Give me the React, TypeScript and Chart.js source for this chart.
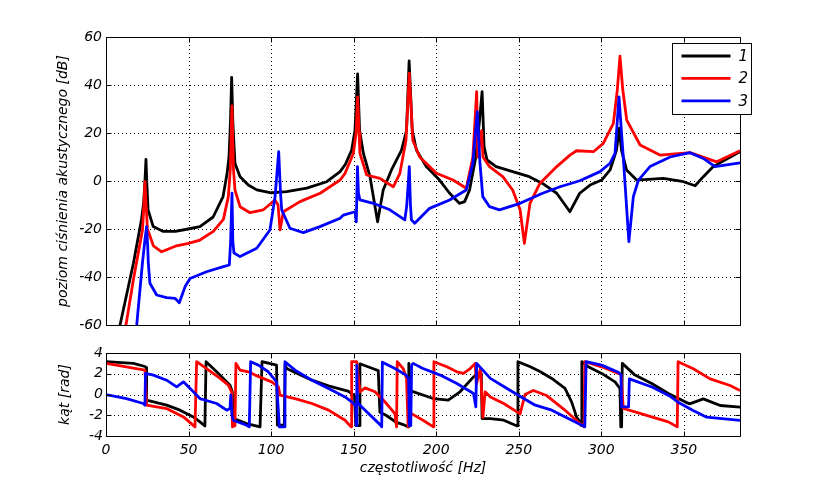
import React, { useEffect, useRef } from "react";
import { Chart, registerables } from "chart.js";

Chart.register(...registerables);

// ---------------- data ----------------
const FREQ_MAX = 384;
const FREQ_STEP = 50;
const MAG_MIN = -60;
const MAG_MAX = 60;
const MAG_STEP = 20;
const PH_MIN = -4;
const PH_MAX = 4;
const PH_STEP = 2;

const seriesLabels = ["1", "2", "3"];
const seriesColors = ["#000000", "#ff0000", "#0000ff"];

// magnitude, series 1 (black)
const mag1Hz = [6, 8.5, 16.6, 21.5, 22.8, 23.6, 24.2, 24.8, 25.5, 28.6, 34.7, 42, 49.7, 56.9, 64.9, 70.9, 73.3, 74.5, 75.4, 76.1, 76.8, 78.1, 81.2, 86.2, 91.3, 100.1, 109.4, 121.6, 133.7, 141.8, 145, 148.8, 150.8, 152.4, 153.6, 155.9, 159.9, 164.5, 167.9, 172.9, 179, 182, 183.6, 185.5, 188, 194, 202, 208, 214, 217.2, 220.2, 224, 226.2, 227.8, 229, 230.8, 236.3, 246.3, 256.4, 264.4, 273, 281, 286.9, 293.2, 300.2, 305.3, 309.2, 310.9, 312.2, 315.3, 321.4, 337.5, 349.8, 356.8, 361.8, 367.8, 384];
const mag1Db = [-72, -60, -34.3, -16, -9, 0, 9, -2, -12, -19, -21, -21, -20, -19, -15, -6.5, 3, 10, 25, 43.2, 25, 7.4, 1.8, -1.7, -3.7, -4.9, -4.4, -3, -0.3, 3.9, 7, 12.9, 21, 44.6, 21, 11.5, 1.8, -17, -3.75, 4.6, 12.9, 21, 50, 21, 12.9, 6, 0.4, -5, -9.3, -8.6, -3.75, 10, 25, 37.2, 14.3, 8.75, 6, 3.9, 1.8, -1, -5.1, -12.8, -5.1, -1.7, 0.4, 4.6, 12.9, 22, 12.9, 4.6, 0.4, 1.1, -0.3, -2, 1.8, 6, 12.2];

// magnitude, series 2 (red)
const mag2Hz = [10, 12.1, 16.6, 22.1, 23, 23.6, 24.3, 25.1, 28.7, 33.7, 42.7, 49.9, 56.9, 65, 71.1, 74.1, 75.3, 76.3, 77.2, 78.1, 81.2, 87.2, 95.3, 102.4, 104.2, 105.4, 107.4, 117.5, 129.7, 141.8, 144.8, 149.8, 151.5, 152.4, 153.3, 153.8, 157.9, 165.9, 174, 178, 181.7, 183.7, 185.8, 190, 200.1, 210.2, 218.2, 222.2, 224.5, 225.2, 227.5, 228.3, 232.3, 240.3, 246.3, 250.8, 253.4, 256.8, 262.8, 273, 281, 285, 295.2, 301.2, 307.3, 309.7, 311.3, 313, 315.4, 323.5, 335.5, 353.7, 363.8, 369.9, 384];
const mag2Db = [-68, -60, -41, -20.4, -10, -0.3, -10, -20, -27, -29.5, -27, -26, -24.6, -21, -16, -6.5, 5, 31.25, 5, -3.75, -10.7, -13.2, -12, -7.9, -10, -20.4, -12.8, -8.6, -5.1, 0.4, 3.2, 11.5, 20, 35, 20, 11.5, 2.5, 1.1, -2.4, 3.2, 17, 44.9, 17, 10, 3.2, 0.4, -3, 10, 37.2, 10, 21, 10, 6, 1.8, -3.75, -12, -26, -9.3, -1, 6, 10.8, 12.6, 12.2, 15.7, 24, 38, 52, 38, 25.4, 15, 10.8, 11.8, 9.4, 8, 12.6];

// magnitude, series 3 (blue)
const mag3Hz = [16, 18.6, 22.1, 23.5, 24.6, 25.3, 25.6, 26.6, 30.7, 36.7, 41.8, 44.4, 47.9, 50.9, 60.9, 71.1, 74.7, 75.5, 76.3, 76.8, 77.5, 81.2, 91.3, 99.3, 102.4, 104.6, 105.7, 106.4, 111.4, 119.5, 129.6, 141.8, 143.8, 150.8, 151.6, 152.3, 152.9, 153.8, 161.9, 171.9, 181, 182.2, 183.7, 184.4, 185, 187, 196, 208.1, 218.2, 222.2, 224.9, 226.5, 228.2, 232.3, 238.3, 250.8, 264.4, 275, 287, 299.2, 305.3, 308.3, 310.7, 313.3, 316.7, 319.4, 322.5, 329.5, 341.7, 353.7, 361.8, 368.9, 384];
const mag3Db = [-70, -60, -34, -25, -19, -28, -34, -42.6, -47.5, -48.6, -48.9, -50.7, -44, -40.6, -37.8, -35.7, -35, -25, -5.1, -25, -30, -31.5, -28, -20.4, -6.5, 12.2, -5, -12, -19.7, -21.5, -19, -15.5, -14.2, -12.8, -17, 6, -5, -7.9, -9.3, -12, -16.2, -10, 6, -10, -16.2, -17.6, -11.4, -7.9, -3.75, 7.4, 28.9, 7.4, -6.5, -10.7, -12, -9.3, -5.1, -2.4, 0.1, 3.9, 7.4, 11.5, 35, 10, -25.3, -6.5, 0.4, 6, 10, 11.8, 9.4, 6, 7.6];

// phase, series 1 (black)
const ph1Hz = [0, 16.6, 23.6, 24.3, 24.6, 36.7, 44.8, 52.9, 56.9, 59.9, 60.6, 67, 75.1, 76.5, 77, 85.2, 93.3, 94.5, 103.3, 103.8, 108, 108.5, 109.4, 124.7, 134.7, 146.6, 150.5, 151.3, 153.3, 153.8, 161.9, 164.9, 165.9, 169.6, 175.6, 180, 183, 183.4, 184.3, 185, 198.2, 207.3, 214.4, 222.6, 225.6, 227.3, 227.8, 232.8, 240.9, 249, 249.5, 257, 263.1, 270, 278, 282, 285, 287, 287.8, 288.2, 292.1, 300.2, 308.3, 311.3, 311.8, 312.3, 312.7, 320.4, 330.5, 340.6, 350.7, 353.5, 361.8, 372, 384];
const ph1Rad = [3.16, 3.0, 2.7, 2.6, -0.55, -1.03, -1.51, -2.16, -2.64, -3.03, 3.16, 2.19, 0.9, 0.26, -2.3, -2.8, -3.12, 3.16, 2.83, -2.96, -2.96, 2.9, 2.51, 1.38, 0.84, 0.32, -0.1, -3.0, -3.0, 2.96, 2.48, 2.3, -1.7, -2.0, -2.67, -2.9, -3.12, 3.0, 0.6, 0.32, -0.39, -0.55, 0.26, 1.7, 2.03, 2.0, -2.32, -2.32, -2.48, -3.03, 3.16, 2.67, 2.19, 1.55, 0.58, -0.71, -2.16, -2.64, -3.0, 3.16, 2.67, 2.03, 1.22, 0.58, -3.12, -3.12, 3.0, 1.87, 1.06, 0.1, -0.71, -0.9, -0.42, -1.06, -1.22];

// phase, series 2 (red)
const ph2Hz = [0, 23.6, 24.6, 36.7, 46.9, 53.9, 54.9, 60.9, 69.1, 74.1, 76.1, 76.6, 78.1, 78.7, 81.2, 86.2, 90.3, 100.3, 104.4, 105.4, 114.5, 124.7, 134.8, 144.8, 148.4, 148.8, 151.8, 152.6, 153.8, 156.9, 162.9, 168.9, 175, 176, 176.4, 180, 182, 183, 183.7, 185, 192, 198.3, 198.6, 206.4, 212.5, 216.5, 220.6, 223.6, 224.3, 226.8, 228.3, 229.6, 232.8, 240.9, 248.9, 250.8, 253.8, 258.8, 266.9, 277, 287.1, 289.5, 290, 300.2, 310.3, 312, 313.3, 320.4, 330.5, 340.6, 346, 346.5, 355.7, 365.9, 378, 384];
const ph2Rad = [3.0, 2.35, -1.03, -1.35, -2.16, -3.12, 3.16, 2.5, 1.55, 0.9, 0.26, -3.12, -3.0, 3.0, 2.35, 2.19, 1.87, 1.22, 0.74, -0.06, -0.39, -0.87, -1.51, -2.48, -3.12, 3.16, 3.16, 2.0, 0.26, 0.64, 0.26, -0.7, -1.84, -3.12, 3.16, 2.5, 1.55, -3.12, -1.84, -1.84, -2.48, -3.12, 3.16, 2.67, 2.19, 2.03, 2.5, 3.0, 1.0, 2.5, -2.2, 0.26, -0.23, -0.87, -1.67, -1.87, 0.0, 0.39, -0.1, -1.38, -2.8, -3.12, 3.16, 2.67, 2.03, 1.9, -1.35, -1.67, -2.16, -2.64, -3.12, 3.16, 2.48, 1.51, 0.87, 0.39];

// phase, series 3 (blue)
const ph3Hz = [0, 12.4, 22.6, 23.6, 23.9, 28.7, 36.7, 42.8, 46.9, 52.9, 56.9, 67, 73.1, 75.1, 75.6, 76.3, 77.1, 85.2, 86.8, 87.6, 92.3, 98.3, 103.3, 105, 108, 108.4, 114.5, 124.7, 134.8, 144.8, 148.8, 151.3, 151.6, 151.9, 152.3, 153.8, 166.6, 167, 167.4, 175, 182, 183.3, 183.7, 184.6, 185.1, 186, 192, 202.4, 212.5, 222.6, 224, 224.5, 232.8, 242.9, 253, 260, 270, 280, 290, 290.8, 300.2, 310.3, 311.9, 312.3, 316.5, 317, 331, 342, 346.5, 355.6, 363.8, 384];
const ph3Rad = [0, -0.39, -0.87, -1.03, 2.03, 1.87, 1.38, 0.74, 1.22, 0.26, -0.39, -0.87, -1.51, -1.35, -0.06, -2.0, -2.48, -2.96, -3.12, 3.16, 2.83, 2.19, 1.22, -3.12, -3.12, 3.16, 2.35, 1.38, 0.58, -0.23, -0.71, -1.1, -3.0, 2.8, -0.74, -1.03, -3.0, -3.12, 3.12, 2.5, 1.84, 1.5, -3.0, -3.0, 2.83, 3.0, 2.5, 1.87, 1.06, 0.1, -1.19, 3.0, 1.55, 0.58, -0.39, -1.03, -1.51, -2.32, -3.12, 3.16, 2.83, 2.15, 1.9, -1.19, -1.19, 1.51, 0.7, -0.2, -0.74, -1.55, -2.19, -2.5];

const magTitle = "poziom ciśnienia akustycznego [dB]";
const phaseTitle = "kąt [rad]";
const freqTitle = "częstotliwość [Hz]";

// ---------------- styling ----------------
const FAMILY = "'DejaVu Sans', sans-serif";
const tickFont = { family: FAMILY, size: 14, style: "italic" as const };
const titleFont = { family: FAMILY, size: 14, style: "italic" as const };
const LINE_W = 2.8;
const TICK_LEN = 5;

function pts(xs: number[], ys: number[]) {
  return xs.map((x, i) => ({ x, y: ys[i] }));
}

function dataset(idx: number, xs: number[], ys: number[]) {
  return {
    label: seriesLabels[idx],
    data: pts(xs, ys),
    borderColor: seriesColors[idx],
    backgroundColor: seriesColors[idx],
    borderWidth: LINE_W,
    pointRadius: 0,
    pointHoverRadius: 0,
    tension: 0,
    fill: false,
    order: 3 - idx,
    borderJoinStyle: "round" as const,
    borderCapStyle: "butt" as const,
  };
}

const framePlugin = {
  id: "matlabFrame",
  beforeDatasetsDraw(chart: any) {
    const { ctx, chartArea: a, scales } = chart;
    const xs = scales.x;
    const ys = scales.y;
    ctx.save();
    ctx.strokeStyle = "#000";
    ctx.lineWidth = 1;
    ctx.setLineDash([1, 3]);
    ctx.beginPath();
    for (const t of xs.ticks) {
      const p = Math.round(xs.getPixelForValue(t.value)) + 0.5;
      if (p <= a.left + 1 || p >= a.right - 1) continue;
      ctx.moveTo(p, a.top);
      ctx.lineTo(p, a.bottom);
    }
    for (const t of ys.ticks) {
      const p = Math.round(ys.getPixelForValue(t.value)) + 0.5;
      if (p <= a.top + 1 || p >= a.bottom - 1) continue;
      ctx.moveTo(a.left, p);
      ctx.lineTo(a.right, p);
    }
    ctx.stroke();
    ctx.restore();
  },
  afterDatasetsDraw(chart: any) {
    const { ctx, chartArea: a, scales } = chart;
    const xs = scales.x;
    const ys = scales.y;
    const l = Math.round(a.left) + 0.5;
    const r = Math.round(a.right) + 0.5;
    const t0 = Math.round(a.top) + 0.5;
    const b = Math.round(a.bottom) + 0.5;
    ctx.save();
    ctx.strokeStyle = "#000";
    ctx.lineWidth = 1;
    ctx.setLineDash([]);
    ctx.beginPath();
    ctx.rect(l, t0, r - l, b - t0);
    for (const t of xs.ticks) {
      const p = Math.round(xs.getPixelForValue(t.value)) + 0.5;
      ctx.moveTo(p, b);
      ctx.lineTo(p, b - TICK_LEN);
      ctx.moveTo(p, t0);
      ctx.lineTo(p, t0 + TICK_LEN);
    }
    for (const t of ys.ticks) {
      const p = Math.round(ys.getPixelForValue(t.value)) + 0.5;
      ctx.moveTo(l, p);
      ctx.lineTo(l + TICK_LEN, p);
      ctx.moveTo(r, p);
      ctx.lineTo(r - TICK_LEN, p);
    }
    ctx.stroke();
    ctx.restore();
  },
};

const legendPlugin = {
  id: "matlabLegend",
  afterDraw(chart: any) {
    const { ctx, chartArea: a } = chart;
    const left = Math.round(a.right) - 68 + 0.5;
    const top = Math.round(a.top) + 6 + 0.5;
    const w = 79;
    const h = 71;
    ctx.save();
    ctx.fillStyle = "#fff";
    ctx.fillRect(left, top, w, h);
    ctx.strokeStyle = "#000";
    ctx.lineWidth = 1;
    ctx.strokeRect(left, top, w, h);
    ctx.font = `italic 15px ${FAMILY}`;
    ctx.textBaseline = "middle";
    ctx.textAlign = "left";
    chart.data.datasets.forEach((d: any, i: number) => {
      const y = top + 12.5 + i * 22.4;
      ctx.strokeStyle = d.borderColor;
      ctx.lineWidth = LINE_W;
      ctx.beginPath();
      ctx.moveTo(left + 9, y);
      ctx.lineTo(left + 58, y);
      ctx.stroke();
      ctx.fillStyle = "#000";
      ctx.fillText(d.label, left + 66, y + 1);
    });
    ctx.restore();
  },
};

function baseOptions() {
  return {
    responsive: false,
    maintainAspectRatio: false,
    animation: false as const,
    devicePixelRatio: 1,
    events: [] as any[],
    parsing: false as const,
    plugins: { legend: { display: false }, tooltip: { enabled: false } },
  };
}

function magConfig(): any {
  return {
    type: "line",
    data: {
      datasets: [dataset(0, mag1Hz, mag1Db), dataset(1, mag2Hz, mag2Db), dataset(2, mag3Hz, mag3Db)],
    },
    options: {
      ...baseOptions(),
      layout: { padding: { left: 0, right: 78, top: 37, bottom: 165 } },
      scales: {
        x: {
          type: "linear",
          min: 0,
          max: FREQ_MAX,
          afterFit: (s: any) => { s.height = 0; },
          grid: { display: false, drawTicks: false },
          border: { display: false },
          ticks: { display: false, stepSize: FREQ_STEP, includeBounds: false },
        },
        y: {
          type: "linear",
          min: MAG_MIN,
          max: MAG_MAX,
          afterFit: (s: any) => { s.width = 106; },
          grid: { display: false, drawTicks: false },
          border: { display: false },
          ticks: { stepSize: MAG_STEP, padding: 4, font: tickFont, color: "#000" },
          title: { display: true, text: magTitle, font: titleFont, color: "#000", padding: { top: 55, bottom: 0 } },
        },
      },
    },
    plugins: [framePlugin, legendPlugin],
  };
}

function phaseConfig(): any {
  return {
    type: "line",
    data: {
      datasets: [dataset(0, ph1Hz, ph1Rad), dataset(1, ph2Hz, ph2Rad), dataset(2, ph3Hz, ph3Rad)],
    },
    options: {
      ...baseOptions(),
      layout: { padding: { left: 0, right: 78, top: 353, bottom: 0 } },
      scales: {
        x: {
          type: "linear",
          min: 0,
          max: FREQ_MAX,
          afterFit: (s: any) => { s.height = 54; },
          grid: { display: false, drawTicks: false },
          border: { display: false },
          ticks: { stepSize: FREQ_STEP, includeBounds: false, padding: 6, font: tickFont, color: "#000", maxRotation: 0, autoSkip: false },
          title: { display: true, text: freqTitle, font: titleFont, color: "#000", padding: { top: 0, bottom: 13 } },
        },
        y: {
          type: "linear",
          min: PH_MIN,
          max: PH_MAX,
          afterFit: (s: any) => { s.width = 106; },
          grid: { display: false, drawTicks: false },
          border: { display: false },
          ticks: { stepSize: PH_STEP, padding: 3, font: tickFont, color: "#000" },
          title: { display: true, text: phaseTitle, font: titleFont, color: "#000", padding: { top: 57, bottom: 0 } },
        },
      },
    },
    plugins: [framePlugin],
  };
}

export default function App() {
  const topRef = useRef<HTMLCanvasElement>(null);
  const botRef = useRef<HTMLCanvasElement>(null);

  useEffect(() => {
    const top = new Chart(topRef.current as HTMLCanvasElement, magConfig());
    const bot = new Chart(botRef.current as HTMLCanvasElement, phaseConfig());
    return () => {
      top.destroy();
      bot.destroy();
    };
  }, []);

  return (
    <div style={{ position: "fixed", left: 0, top: 0, width: 818, height: 490, background: "#fff" }}>
      <canvas ref={botRef} width={818} height={490} style={{ position: "absolute", left: 0, top: 0 }} />
      <canvas ref={topRef} width={818} height={490} style={{ position: "absolute", left: 0, top: 0 }} />
    </div>
  );
}
